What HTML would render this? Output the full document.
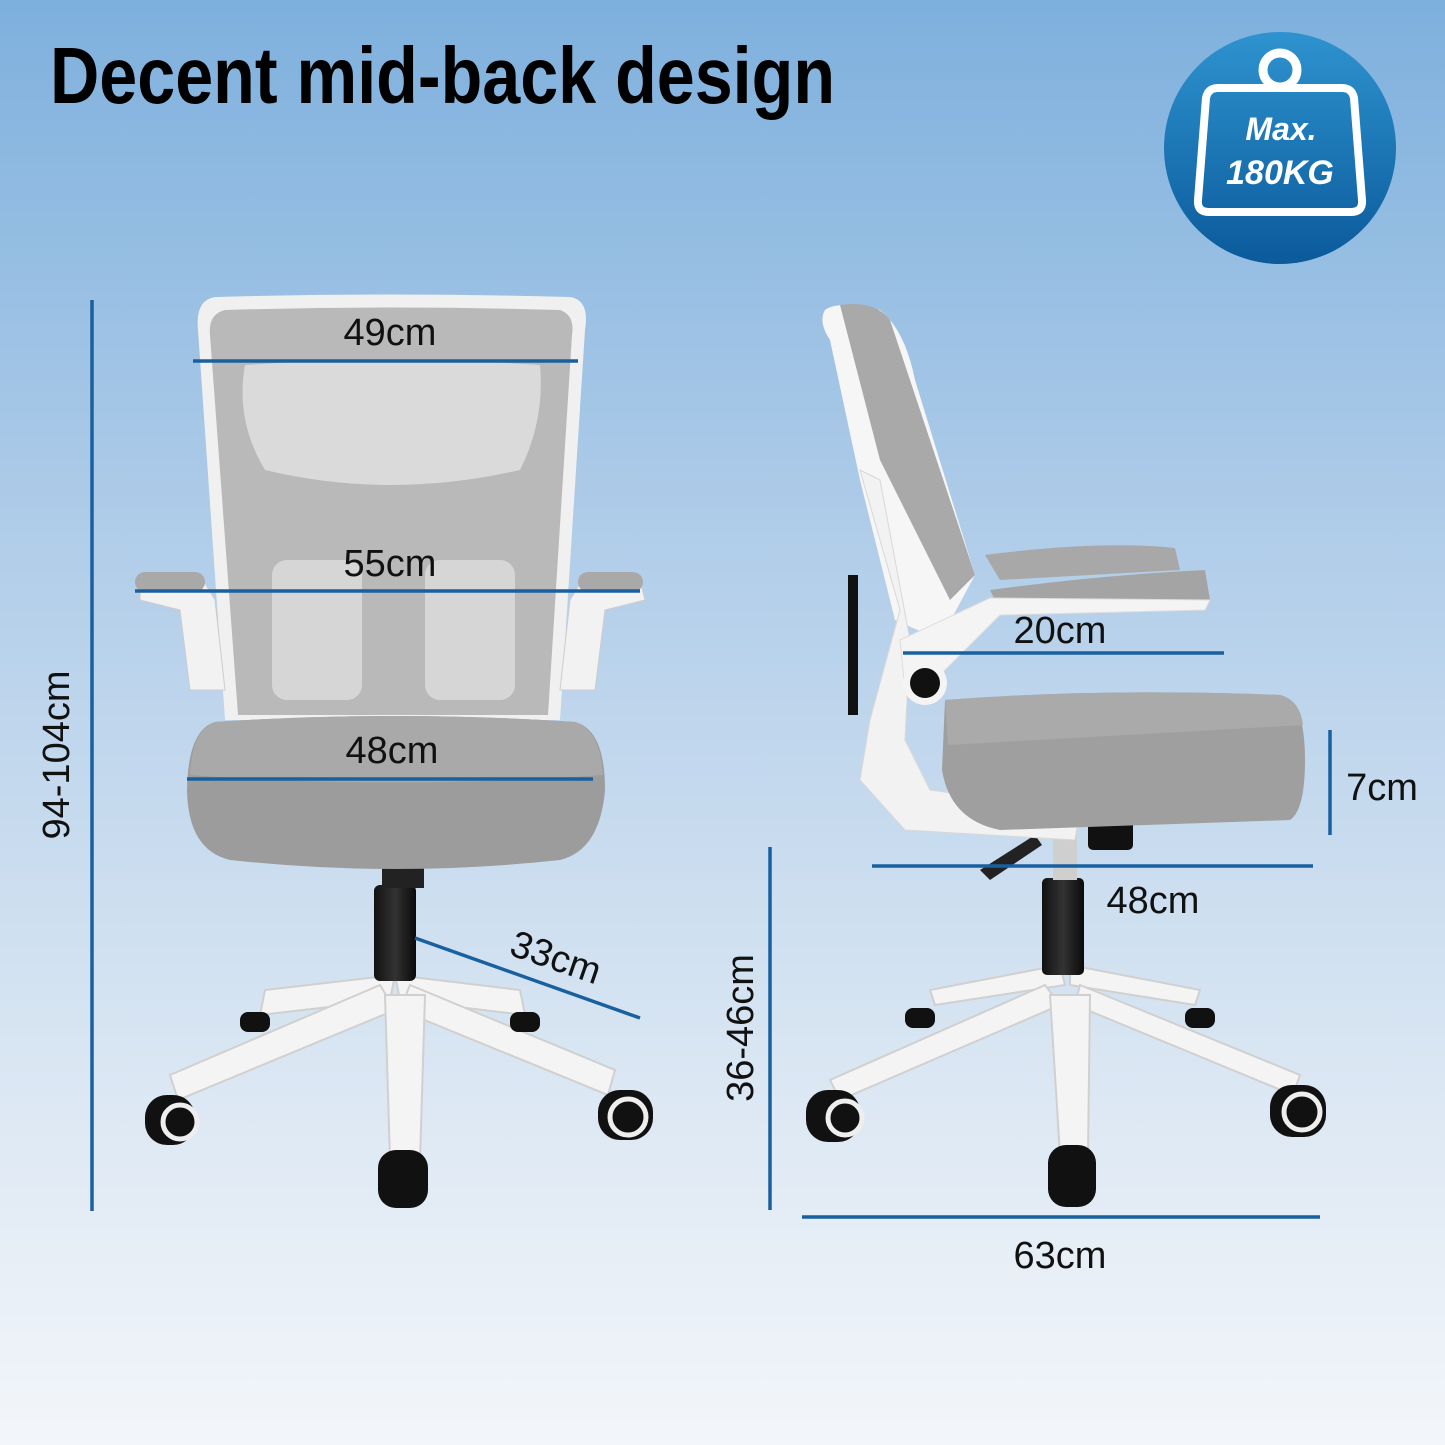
<!DOCTYPE html>
<html><head><meta charset="utf-8"><style>
html,body{margin:0;padding:0;width:1445px;height:1445px;overflow:hidden}
svg{display:block}
.t{font-family:"Liberation Sans",sans-serif;font-size:38px;fill:#111}
</style></head><body>
<svg width="1445" height="1445" viewBox="0 0 1445 1445" xmlns="http://www.w3.org/2000/svg">
<defs>
<linearGradient id="bg" x1="0" y1="0" x2="0" y2="1">
<stop offset="0" stop-color="#7eb0dd"/><stop offset="0.4" stop-color="#b4cfea"/><stop offset="0.75" stop-color="#dbe7f3"/><stop offset="1" stop-color="#f3f6fa"/>
</linearGradient>
<linearGradient id="badge" x1="0" y1="0" x2="0" y2="1">
<stop offset="0" stop-color="#2e93cf"/><stop offset="1" stop-color="#0b5a9b"/>
</linearGradient>
<linearGradient id="cyl" x1="0" y1="0" x2="1" y2="0">
<stop offset="0" stop-color="#111"/><stop offset="0.5" stop-color="#333"/><stop offset="1" stop-color="#0a0a0a"/>
</linearGradient>
</defs>
<rect width="1445" height="1445" fill="url(#bg)"/>

<!-- title -->
<text x="50" y="103" font-family="'Liberation Sans',sans-serif" font-size="80" font-weight="bold" fill="#000" textLength="785" lengthAdjust="spacingAndGlyphs">Decent mid-back design</text>

<!-- badge -->
<circle cx="1280" cy="148" r="116" fill="url(#badge)"/>
<circle cx="1280" cy="70" r="17" fill="none" stroke="#fff" stroke-width="9"/>
<path d="M1218 88 L1342 88 Q1352 88 1354 98 L1362 200 Q1363 212 1351 212 L1209 212 Q1197 212 1198 200 L1206 98 Q1208 88 1218 88 Z" fill="none" stroke="#fff" stroke-width="8"/>
<text x="1281" y="140" text-anchor="middle" font-family="'Liberation Sans',sans-serif" font-size="32" font-weight="bold" font-style="italic" fill="#fff">Max.</text>
<text x="1280" y="184" text-anchor="middle" font-family="'Liberation Sans',sans-serif" font-size="34" font-weight="bold" font-style="italic" fill="#fff">180KG</text>

<!-- FRONT CHAIR -->
<!-- base -->
<g fill="#f4f4f4" stroke="#d0d0d0" stroke-width="2">
<polygon points="395,975 265,990 260,1015 390,1000"/>
<polygon points="395,975 520,990 525,1015 400,1000"/>
<polygon points="380,985 170,1075 178,1100 395,1010"/>
<polygon points="410,985 615,1070 608,1095 400,1010"/>
<polygon points="385,995 425,995 420,1160 390,1160"/>
</g>
<g fill="#111">
<rect x="145" y="1095" width="50" height="50" rx="22"/><rect x="598" y="1090" width="55" height="50" rx="22"/>
<rect x="378" y="1150" width="50" height="58" rx="18"/>
<rect x="240" y="1012" width="30" height="20" rx="8"/><rect x="510" y="1012" width="30" height="20" rx="8"/>
</g>
<g fill="none" stroke="#eee" stroke-width="5">
<circle cx="180" cy="1122" r="17"/><circle cx="628" cy="1117" r="18"/>
</g>
<rect x="374" y="885" width="42" height="96" rx="6" fill="url(#cyl)"/>
<rect x="382" y="868" width="42" height="20" fill="#222"/>
<!-- back -->
<path d="M215 297 Q390 292 570 297 Q590 300 585 330 L560 720 L225 720 L198 330 Q195 300 215 297 Z" fill="#f0f0f0"/>
<path d="M225 310 Q390 305 560 310 Q575 315 572 335 L548 715 L238 715 L210 335 Q208 314 225 310 Z" fill="#b9b9b9"/>
<path d="M245 365 Q390 355 540 365 Q545 420 520 470 Q390 500 265 470 Q235 420 245 365 Z" fill="#e2e2e2" opacity="0.8"/>
<rect x="272" y="560" width="90" height="140" rx="15" fill="#d6d6d6"/><rect x="425" y="560" width="90" height="140" rx="15" fill="#d6d6d6"/>
<!-- armrests -->
<path d="M140 580 Q160 570 200 575 L215 600 L225 690 L190 690 L180 610 L140 600 Z" fill="#f2f2f2" stroke="#ccc"/>
<path d="M640 580 Q620 570 585 575 L570 600 L560 690 L595 690 L605 610 L645 600 Z" fill="#f2f2f2" stroke="#ccc"/>
<rect x="135" y="572" width="70" height="20" rx="10" fill="#a9a9a9"/><rect x="578" y="572" width="65" height="20" rx="10" fill="#a9a9a9"/>
<!-- seat -->
<path d="M215 722 Q395 710 575 722 Q605 730 605 790 Q600 850 560 860 Q395 878 230 860 Q188 850 187 790 Q188 730 215 722 Z" fill="#9c9c9c"/>
<path d="M215 722 Q395 710 575 722 Q600 730 603 775 Q395 790 190 775 Q192 730 215 722 Z" fill="#a9a9a9"/>

<!-- SIDE CHAIR -->
<g fill="#f4f4f4" stroke="#d0d0d0" stroke-width="2">
<polygon points="1060,965 930,990 935,1005 1065,985"/>
<polygon points="1070,965 1200,990 1195,1005 1070,985"/>
<polygon points="1045,985 830,1080 840,1100 1060,1005"/>
<polygon points="1080,985 1300,1075 1293,1095 1075,1005"/>
<polygon points="1050,995 1090,995 1088,1155 1060,1155"/>
</g>
<g fill="#111">
<rect x="806" y="1090" width="54" height="52" rx="22"/><rect x="1270" y="1085" width="56" height="52" rx="22"/>
<rect x="1048" y="1145" width="48" height="62" rx="18"/>
<rect x="905" y="1008" width="30" height="20" rx="8"/><rect x="1185" y="1008" width="30" height="20" rx="8"/>
</g>
<g fill="none" stroke="#eee" stroke-width="5"><circle cx="845" cy="1118" r="17"/><circle cx="1302" cy="1112" r="18"/></g>
<rect x="1042" y="878" width="42" height="97" rx="5" fill="url(#cyl)"/>
<rect x="1053" y="835" width="24" height="45" fill="#cfcfcf"/>
<rect x="1088" y="815" width="45" height="35" rx="5" fill="#111"/>
<polygon points="980,870 1035,835 1042,845 990,880" fill="#222"/>
<!-- back -->
<path d="M825 310 Q838 300 880 310 Q905 330 915 380 L975 575 L940 640 L895 620 L860 480 L830 340 Q818 322 825 310 Z" fill="#f6f6f6"/>
<path d="M840 305 Q875 300 890 320 L975 575 L950 600 L880 460 Z" fill="#a9a9a9"/>
<path d="M860 470 L900 610 L870 720 L860 780 L905 830 L1075 840 L1080 810 L930 790 L905 740 L910 640 L880 480 Z" fill="#f2f2f2" stroke="#d8d8d8"/>
<rect x="848" y="575" width="10" height="140" fill="#111"/>
<!-- arms -->
<path d="M985 555 Q1100 540 1175 548 L1180 570 L1000 580 Z" fill="#a8a8a8"/>
<path d="M990 590 Q1100 575 1205 570 L1210 600 L1000 610 Z" fill="#a4a4a4"/>
<path d="M900 640 L990 598 L1210 600 L1205 610 L1000 615 L935 680 L905 690 Z" fill="#f4f4f4" stroke="#ddd"/>
<circle cx="925" cy="683" r="22" fill="#f4f4f4"/><circle cx="925" cy="683" r="15" fill="#111"/>
<!-- seat -->
<path d="M945 700 Q1100 688 1280 695 Q1305 700 1305 760 Q1305 810 1290 820 L1000 830 Q950 820 942 770 Z" fill="#9f9f9f"/>
<path d="M945 700 Q1100 688 1280 695 Q1300 700 1303 725 L948 745 Z" fill="#aaa"/>

<!-- DIMENSION LINES -->
<g stroke="#19609f" stroke-width="3.5" fill="none">
<line x1="92" y1="300" x2="92" y2="1211"/>
<line x1="193" y1="361" x2="578" y2="361"/>
<line x1="135" y1="591" x2="640" y2="591"/>
<line x1="187" y1="779" x2="593" y2="779"/>
<line x1="415" y1="938" x2="640" y2="1018"/>
<line x1="903" y1="653" x2="1224" y2="653"/>
<line x1="1330" y1="730" x2="1330" y2="835"/>
<line x1="872" y1="866" x2="1313" y2="866"/>
<line x1="770" y1="847" x2="770" y2="1210"/>
<line x1="802" y1="1217" x2="1320" y2="1217"/>
</g>
<text class="t" x="390" y="345" text-anchor="middle">49cm</text>
<text class="t" x="390" y="576" text-anchor="middle">55cm</text>
<text class="t" x="392" y="763" text-anchor="middle">48cm</text>
<text class="t" x="555" y="970" text-anchor="middle" transform="rotate(19 555 960)">33cm</text>
<text class="t" x="1060" y="643" text-anchor="middle">20cm</text>
<text class="t" x="1382" y="800" text-anchor="middle">7cm</text>
<text class="t" x="1153" y="913" text-anchor="middle">48cm</text>
<text class="t" x="1060" y="1268" text-anchor="middle">63cm</text>
<text class="t" x="0" y="0" text-anchor="middle" transform="translate(69 755) rotate(-90)">94-104cm</text>
<text class="t" x="0" y="0" text-anchor="middle" transform="translate(753 1028) rotate(-90)">36-46cm</text>
</svg>
</body></html>
